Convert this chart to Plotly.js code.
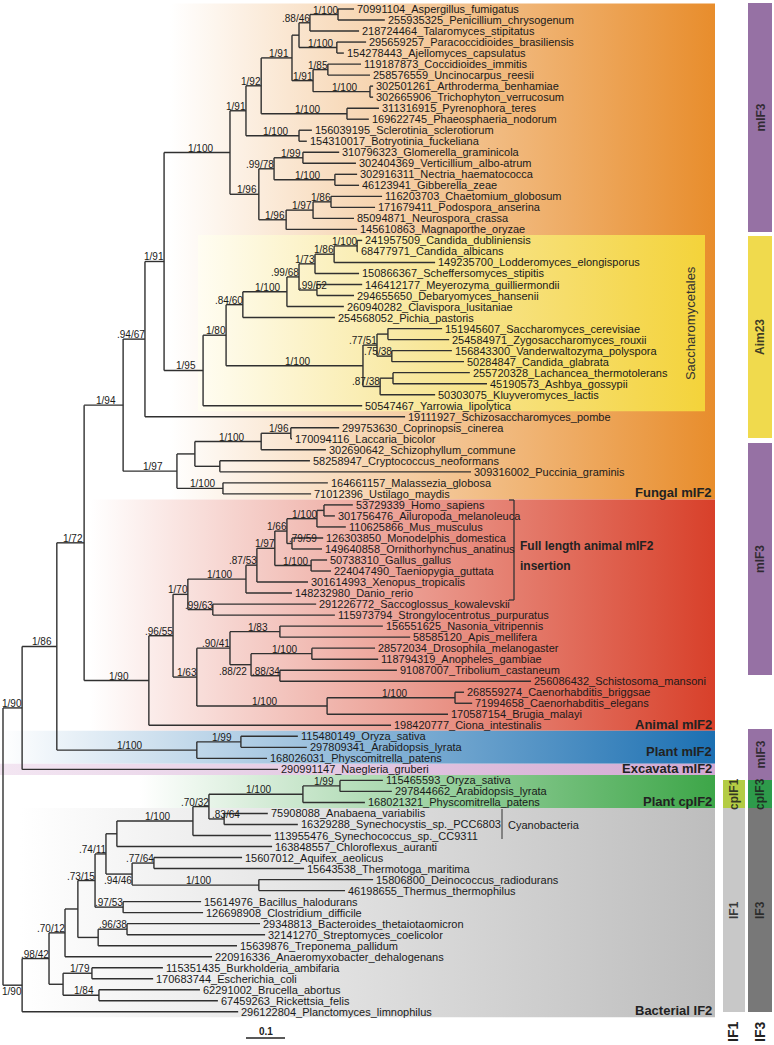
<!DOCTYPE html>
<html><head><meta charset="utf-8">
<script src="https://cdn.plot.ly/plotly-3.0.1.min.js"></script>
<style>html,body{margin:0;padding:0;background:#fff}</style>
</head><body><div id="chart" style="width:774px;height:1045px"></div>
<script>
// ---------------- DATA ----------------
const leafNames = [
"70991104_Aspergillus_fumigatus","255935325_Penicillium_chrysogenum","218724464_Talaromyces_stipitatus",
"295659257_Paracoccidioides_brasiliensis","154278443_Ajellomyces_capsulatus","119187873_Coccidioides_immitis",
"258576559_Uncinocarpus_reesii","302501261_Arthroderma_benhamiae","302665906_Trichophyton_verrucosum",
"311316915_Pyrenophora_teres","169622745_Phaeosphaeria_nodorum","156039195_Sclerotinia_sclerotiorum",
"154310017_Botryotinia_fuckeliana","310796323_Glomerella_graminicola","302404369_Verticillium_albo-atrum",
"302916311_Nectria_haematococca","46123941_Gibberella_zeae","116203703_Chaetomium_globosum",
"171679411_Podospora_anserina","85094871_Neurospora_crassa","145610863_Magnaporthe_oryzae",
"241957509_Candida_dubliniensis","68477971_Candida_albicans","149235700_Lodderomyces_elongisporus",
"150866367_Scheffersomyces_stipitis","146412177_Meyerozyma_guilliermondii","294655650_Debaryomyces_hansenii",
"260940282_Clavispora_lusitaniae","254568052_Pichia_pastoris","151945607_Saccharomyces_cerevisiae",
"254584971_Zygosaccharomyces_rouxii","156843300_Vanderwaltozyma_polyspora","50284847_Candida_glabrata",
"255720328_Lachancea_thermotolerans","45190573_Ashbya_gossypii","50303075_Kluyveromyces_lactis",
"50547467_Yarrowia_lipolytica","19111927_Schizosaccharomyces_pombe","299753630_Coprinopsis_cinerea",
"170094116_Laccaria_bicolor","302690642_Schizophyllum_commune","58258947_Cryptococcus_neoformans",
"309316002_Puccinia_graminis","164661157_Malassezia_globosa","71012396_Ustilago_maydis",
"53729339_Homo_sapiens","301756476_Ailuropoda_melanoleuca","110625866_Mus_musculus",
"126303850_Monodelphis_domestica","149640858_Ornithorhynchus_anatinus","50738310_Gallus_gallus",
"224047490_Taeniopygia_guttata","301614993_Xenopus_tropicalis","148232980_Danio_rerio",
"291226772_Saccoglossus_kowalevskii","115973794_Strongylocentrotus_purpuratus","156551625_Nasonia_vitripennis",
"58585120_Apis_mellifera","28572034_Drosophila_melanogaster","118794319_Anopheles_gambiae",
"91087007_Tribolium_castaneum","256086432_Schistosoma_mansoni","268559274_Caenorhabditis_briggsae",
"71994658_Caenorhabditis_elegans","170587154_Brugia_malayi","198420777_Ciona_intestinalis",
"115480149_Oryza_sativa","297809341_Arabidopsis_lyrata","168026031_Physcomitrella_patens",
"290991147_Naegleria_gruberi","115465593_Oryza_sativa","297844662_Arabidopsis_lyrata",
"168021321_Physcomitrella_patens","75908088_Anabaena_variabilis","16329288_Synechocystis_sp._PCC6803",
"113955476_Synechococcus_sp._CC9311","163848557_Chloroflexus_auranti","15607012_Aquifex_aeolicus",
"15643538_Thermotoga_maritima","15806800_Deinococcus_radiodurans","46198655_Thermus_thermophilus",
"15614976_Bacillus_halodurans","126698908_Clostridium_difficile","29348813_Bacteroides_thetaiotaomicron",
"32141270_Streptomyces_coelicolor","15639876_Treponema_pallidum","220916336_Anaeromyxobacter_dehalogenans",
"115351435_Burkholderia_ambifaria","170683744_Escherichia_coli","62291002_Brucella_abortus",
"67459263_Rickettsia_felis","296122804_Planctomyces_limnophilus"];

// distance from root (substitutions/site) of each leaf tip
const leafDepth = [
0.900,0.979,0.913,0.931,0.874,0.918,0.941,0.949,0.949,0.964,0.938,0.792,0.779,0.862,0.905,0.908,0.913,0.972,0.954,0.900,0.908,
0.921,0.910,1.108,0.913,0.921,0.900,0.874,0.851,1.126,1.144,1.151,1.182,1.197,1.241,1.108,0.921,1.031,
0.862,0.741,0.828,0.787,1.200,0.833,0.790,
0.897,0.851,0.879,0.821,0.818,0.831,0.841,0.782,0.741,0.803,0.851,
0.974,1.044,0.954,0.962,1.010,1.354,1.182,1.203,1.141,0.995,
0.756,0.779,0.677,0.705,0.974,0.997,0.928,0.679,0.756,0.687,0.690,0.613,0.772,0.949,0.877,
0.508,0.513,0.659,0.672,0.600,0.536,0.410,0.385,0.505,0.551,0.603];

// internal nodes c1..c91: [support (PP/bootstrap), depth from root, child A, child B]
// numbers = leaf (1-based), "cN" = internal node
const clades = [
 ["1/100",0.859,1,2], [".88/46",0.787,"c1",3], ["1/100",0.856,4,5], ["",0.759,"c2","c3"],
 ["1/85",0.833,6,7], ["1/100",0.941,8,9], ["1/91",0.795,"c5","c6"], ["1/91",0.741,"c4","c7"],
 ["1/100",0.882,10,11], ["1/92",0.662,"c8","c9"], ["1/100",0.759,12,13], ["1/91",0.623,"c10","c11"],
 ["1/99",0.769,14,15], ["1/100",0.851,16,17], [".99/78",0.695,"c13","c14"], ["1/86",0.841,18,19],
 ["1/97",0.795,"c16",20], ["1/96",0.726,"c17",21], ["1/96",0.656,"c15","c18"], ["1/100",0.582,"c12","c19"],
 ["1/100",0.908,22,23], ["1/86",0.849,"c21",24], ["1/73",0.800,"c22",25], [".99/52",0.805,26,27],
 [".99/68",0.759,"c23","c24"], ["1/100",0.728,"c25",28], [".84/60",0.615,"c26",29], ["",0.987,30,31],
 [".75/38",0.997,32,33], [".77/51",0.959,"c28","c29"], ["",1.000,34,35], [".87/38",0.967,"c31",36],
 ["1/100",0.923,"c30","c32"], ["1/80",0.572,"c27","c33"], ["1/95",0.513,"c34",37], ["1/91",0.413,"c20","c35"],
 [".94/67",0.364,"c36",38], ["1/96",0.738,39,40], ["1/100",0.662,"c38",41], ["",0.556,42,43],
 ["",0.492,"c39","c40"], ["1/100",0.564,44,45], ["1/97",0.446,"c41","c42"], ["1/94",0.308,"c37","c43"],
 ["",0.823,46,47], ["1/100",0.805,"c45",48], [".79/59",0.741,49,50], ["1/66",0.728,"c46","c47"],
 ["1/100",0.790,51,52], ["1/97",0.697,"c48","c49"], [".87/53",0.651,"c50",53], ["1/100",0.623,"c51",54],
 [".99/63",0.538,55,56], ["1/70",0.474,"c52","c53"], ["1/83",0.710,57,58], ["1/100",0.792,59,60],
 [".88/34",0.710,61,62], [".88/22",0.636,"c56","c57"], [".90/41",0.582,"c55","c58"], ["1/100",1.159,63,64],
 ["1/100",0.831,"c60",65], ["1/63",0.497,"c59","c61"], [".96/55",0.436,"c54","c62"], ["1/90",0.374,"c63",66],
 ["1/72",0.208,"c44","c64"], ["1/99",0.610,67,68], ["1/100",0.497,"c66",69], ["1/86",0.138,"c65","c67"],
 ["1/90",0.049,"c68",70], ["1/99",0.864,71,72], ["1/100",0.769,"c70",73], [".83/64",0.567,74,75],
 [".70/32",0.528,"c71","c72"], ["1/100",0.487,"c73",76], ["",0.292,"c74",77], [".77/64",0.387,78,79],
 ["1/100",0.656,80,81], [".94/46",0.331,"c76","c77"], [".74/11",0.264,"c75","c78"], [".97/53",0.308,82,83],
 [".73/15",0.236,"c79","c80"], [".96/38",0.318,84,85], ["",0.244,"c82",86], ["",0.192,"c81","c83"],
 [".70/12",0.159,"c84",87], ["1/79",0.228,88,89], ["1/84",0.246,90,91], ["",0.154,"c86","c87"],
 [".98/42",0.118,"c85","c88"], ["1/90",0.049,"c89",92], ["",0,"c69","c90"]];

// shaded groups: [label, first leaf, last leaf, colour]
const groupNames  = ["Fungal mIF2","Animal mIF2","Plant mIF2","Excavata mIF2","Plant cpIF2","Bacterial IF2"];
const groupFirst  = [1, 46, 67, 70, 71, 74];
const groupLast   = [45, 66, 69, 70, 73, 92];
const groupColors = ["#E88D2C","#D8402A","#1C70B2","#D2A9D2","#3DA648","#BDBDBD"];

const scaleBarLength = 0.1;

// ---------------- LAYOUT HELPERS ----------------
const W = 774, H = 1045;
const PX0 = 3, PXU = 390;           // root pixel, pixels per unit
const PY0 = 9, PYU = 11.02;         // first leaf pixel, pixels per leaf
const X = px => (px - PX0) / PXU;
const Y = py => 1 + (py - PY0) / PYU;
const FONT = 'Liberation Sans, Arial, Helvetica, sans-serif';

// ---------------- TREE GEOMETRY ----------------
const pos = {};
leafNames.forEach((n, i) => { pos[i + 1] = {x: leafDepth[i], y: i + 1}; });
const parent = {};
clades.forEach((c, k) => {
  const id = 'c' + (k + 1);
  const a = pos[c[2]], b = pos[c[3]];
  pos[id] = {x: c[1], y: (a.y + b.y) / 2};
  parent[c[2]] = id; parent[c[3]] = id;
});

const lx = [], ly = [];
clades.forEach((c, k) => {
  const p = pos['c' + (k + 1)];
  const a = pos[c[2]], b = pos[c[3]];
  lx.push(p.x, p.x, null); ly.push(a.y, b.y, null);
  lx.push(p.x, a.x, null); ly.push(a.y, a.y, null);
  lx.push(p.x, b.x, null); ly.push(b.y, b.y, null);
});

const traces = [];
// group background bands with gradient
const gradStart = [170, 90, 0, 0, 140, 20];
groupNames.forEach((g, i) => {
  const y0 = groupFirst[i] - 0.5, y1 = groupLast[i] + 0.5;
  const x0 = X(0), x1 = X(715);
  const c0 = i === 3 ? '#F3E6F2' : '#ffffff';
  traces.push({type: 'scatter', mode: 'none', x: [x0, x1, x1, x0, x0], y: [y0, y0, y1, y1, y0],
    fill: 'toself', fillgradient: {type: 'horizontal', colorscale: [[0, c0], [1, groupColors[i]]],
    start: X(gradStart[i]), stop: x1}, hoverinfo: 'skip', showlegend: false});
});
// Saccharomycetales box
(function () {
  const x0 = X(198), x1 = X(705), y0 = 21.5, y1 = 37.5;
  traces.push({type: 'scatter', mode: 'none', x: [x0, x1, x1, x0, x0], y: [y0, y0, y1, y1, y0],
    fill: 'toself', fillgradient: {type: 'horizontal', colorscale: [[0, '#FFFDF2'], [0.45, '#F8E79A'], [1, '#F4D33A']],
    start: x0, stop: x1}, hoverinfo: 'skip', showlegend: false});
})();

traces.push({type: 'scatter', mode: 'lines', x: lx, y: ly, line: {color: '#303030', width: 1.4},
  hoverinfo: 'skip', showlegend: false});

// ---------------- ANNOTATIONS ----------------
const ann = [];
leafNames.forEach((n, i) => ann.push({x: leafDepth[i], y: i + 1, text: n, xanchor: 'left', yanchor: 'middle',
  showarrow: false, xshift: 1, font: {family: FONT, size: 11, color: '#1a1a1a'}}));

const estW = (s, f) => { let w = 0; for (const ch of s) w += (ch === '/' || ch === '.') ? 0.278 : 0.556; return w * f; };
const labelNudge = {c24: 10, c47: 25, c72: 16, c58: -4};
const labelBelow = {c58: true, c78: true, c90: true};
clades.forEach((c, k) => {
  const id = 'c' + (k + 1);
  if (!c[0]) return;
  const p = pos[id], par = pos[parent[id]];
  const npx = PX0 + p.x * PXU, ppx = PX0 + par.x * PXU;
  const w = estW(c[0], 10);
  let right = Math.min((npx + ppx) / 2 + 3 + w / 2, npx) + (labelNudge[id] || 0);
  const below = !!labelBelow[id];
  ann.push({x: X(right), y: p.y, text: c[0], xanchor: 'right', yanchor: below ? 'top' : 'bottom', showarrow: false,
    xshift: 2, yshift: below ? 1 : -3, font: {family: FONT, size: 10, color: '#1a1a1a'}});
});

// group labels (positive shift = up)
const groupLabelShift = [-2, -2, 4, -2, -2, -2];
groupNames.forEach((g, i) => ann.push({x: X(713), y: groupLast[i] + 0.5, text: '<b>' + g + '</b>',
  xanchor: 'right', yanchor: 'bottom', showarrow: false, yshift: groupLabelShift[i], borderpad: 0,
  font: {family: FONT, size: 13, color: '#222'}}));

ann.push({x: X(690), y: 29.5, text: 'Saccharomycetales', textangle: -90, showarrow: false,
  font: {family: FONT, size: 13, color: '#333'}});
ann.push({x: X(518), y: Y(546), text: '<b>Full length animal mIF2</b>', xanchor: 'left', showarrow: false,
  font: {family: FONT, size: 12, color: '#222'}});
ann.push({x: X(518), y: Y(566), text: '<b>insertion</b>', xanchor: 'left', showarrow: false,
  font: {family: FONT, size: 12, color: '#222'}});
ann.push({x: X(506), y: Y(825), text: 'Cyanobacteria', xanchor: 'left', showarrow: false,
  font: {family: FONT, size: 11, color: '#1a1a1a'}});
ann.push({x: X(246) + scaleBarLength / 2, y: Y(1031), text: '<b>' + scaleBarLength + '</b>', showarrow: false,
  font: {family: FONT, size: 10, color: '#222'}});

// right-hand columns
const shapes = [];
const colSegs = [
  // [label, x0, x1, y0, y1, colour]
  ['mIF3', 748, 772, 3, 232, '#9671A4'],
  ['Aim23', 748, 772, 236, 438, '#F0DA4D'],
  ['mIF3', 748, 772, 443, 675, '#9671A4'],
  ['mIF3', 748, 772, 729, 780, '#9671A4'],
  ['cpIF3', 748, 772, 780, 808, '#2E9B4B'],
  ['IF3', 748, 772, 808, 1012, '#787878'],
  ['cpIF1', 723, 745, 780, 808, '#B4CC44'],
  ['IF1', 723, 745, 808, 1012, '#C8C8C8']];
colSegs.forEach(s => {
  shapes.push({type: 'rect', xref: 'x', yref: 'y', x0: X(s[1]), x1: X(s[2]), y0: Y(s[3]), y1: Y(s[4]),
    fillcolor: s[5], line: {width: 0}, layer: 'above'});
  ann.push({x: X((s[1] + s[2]) / 2), y: Y((s[3] + s[4]) / 2), text: '<b>' + s[0] + '</b>', textangle: -90,
    showarrow: false, font: {family: FONT, size: 12, color: 'rgba(30,30,30,0.85)'}});
});
ann.push({x: X(733), y: Y(1032), text: '<b>IF1</b>', textangle: -90, showarrow: false,
  font: {family: FONT, size: 14, color: '#222'}});
ann.push({x: X(760), y: Y(1032), text: '<b>IF3</b>', textangle: -90, showarrow: false,
  font: {family: FONT, size: 14, color: '#222'}});

// brackets and scale bar
const bl = {color: '#333', width: 1.3};
shapes.push({type: 'line', xref: 'x', yref: 'y', x0: X(514), x1: X(514), y0: Y(500), y1: Y(600), line: bl});
shapes.push({type: 'line', xref: 'x', yref: 'y', x0: X(509), x1: X(514), y0: Y(500), y1: Y(500), line: bl});
shapes.push({type: 'line', xref: 'x', yref: 'y', x0: X(509), x1: X(514), y0: Y(600), y1: Y(600), line: bl});
shapes.push({type: 'line', xref: 'x', yref: 'y', x0: X(502), x1: X(502), y0: Y(809), y1: Y(839), line: {color: '#333', width: 1}});
shapes.push({type: 'line', xref: 'x', yref: 'y', x0: X(246), x1: X(246) + scaleBarLength, y0: Y(1038), y1: Y(1038),
  line: {color: '#222', width: 1.5}});

const layout = {
  width: W, height: H, margin: {l: 0, r: 0, t: 0, b: 0},
  paper_bgcolor: '#fff', plot_bgcolor: '#fff', showlegend: false,
  xaxis: {range: [X(0), X(W)], visible: false, fixedrange: true},
  yaxis: {range: [Y(H), Y(0)], visible: false, fixedrange: true},
  annotations: ann, shapes: shapes
};
Plotly.newPlot('chart', traces, layout, {staticPlot: true, displayModeBar: false});
</script></body></html>
